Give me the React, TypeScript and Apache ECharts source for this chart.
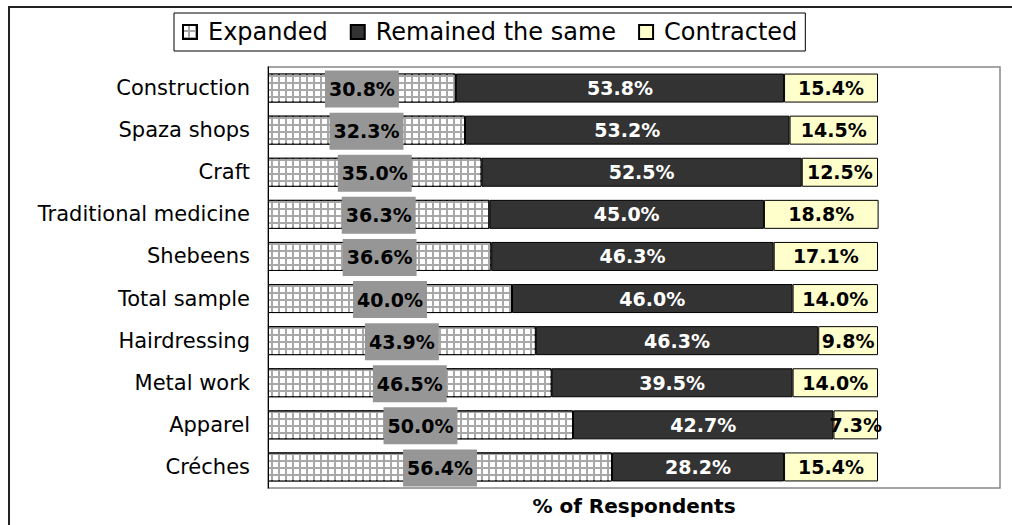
import React, { useEffect, useRef } from "react";
import * as echarts from "echarts";

const categories = [
  "Construction",
  "Spaza shops",
  "Craft",
  "Traditional medicine",
  "Shebeens",
  "Total sample",
  "Hairdressing",
  "Metal work",
  "Apparel",
  "Créches",
];
const expanded = [30.8, 32.3, 35.0, 36.3, 36.6, 40.0, 43.9, 46.5, 50.0, 56.4];
const remained = [53.8, 53.2, 52.5, 45.0, 46.3, 46.0, 46.3, 39.5, 42.7, 28.2];
const contracted = [15.4, 14.5, 12.5, 18.8, 17.1, 14.0, 9.8, 14.0, 7.3, 15.4];
const seriesNames = ["Expanded", "Remained the same", "Contracted"];
const axisTitle = "% of Respondents";

const FONT = "DejaVu Sans";
const fmt = (p: any) => Number(p.value).toFixed(1) + "%";

export default function App() {
  const ref = useRef<HTMLDivElement>(null);
  useEffect(() => {
    if (!ref.current) return;
    const chart = echarts.init(ref.current, null, { renderer: "svg" });
    const labelBase = {
      show: true,
      position: "inside",
      formatter: fmt,
      fontFamily: FONT,
      fontSize: 19,
      fontWeight: "bold",
    };
    const option: any = {
      animation: false,
      backgroundColor: "#ffffff",
      textStyle: { fontFamily: FONT },
      graphic: [
        {
          type: "rect",
          silent: true,
          z: -10,
          shape: { x: 9, y: 7, width: 1010, height: 530 },
          style: { fill: "none", stroke: "#222", lineWidth: 2 },
        },
      ],
      legend: {
        left: 174,
        top: 13,
        padding: [7, 8],
        borderColor: "#000",
        borderWidth: 1,
        icon: "rect",
        itemWidth: 14,
        itemHeight: 14,
        itemGap: 22,
        data: seriesNames,
        textStyle: {
          fontFamily: FONT,
          fontSize: 24,
          color: "#000",
          padding: [0, 0, 0, 6],
        },
      },
      grid: {
        left: 268,
        top: 67,
        right: 12,
        bottom: 37,
        show: true,
        borderColor: "#888",
        borderWidth: 1.5,
        backgroundColor: "transparent",
      },
      xAxis: {
        type: "value",
        min: 0,
        max: 120,
        axisLabel: { show: false },
        axisTick: { show: false },
        axisLine: { show: false },
        splitLine: { show: false },
        name: axisTitle,
        nameLocation: "middle",
        nameGap: 8,
        nameTextStyle: {
          fontFamily: FONT,
          fontSize: 20,
          fontWeight: "bold",
          color: "#000",
          verticalAlign: "top",
        },
      },
      yAxis: {
        type: "category",
        inverse: true,
        data: categories,
        axisLine: { lineStyle: { color: "#000", width: 1 } },
        axisTick: { length: 6, lineStyle: { color: "#000" } },
        axisLabel: { fontFamily: FONT, fontSize: 21, color: "#000", margin: 18 },
      },
      series: [
        {
          name: seriesNames[0],
          type: "bar",
          stack: "total",
          barWidth: 29,
          data: expanded,
          itemStyle: {
            color: "#a8a8a8",
            borderColor: "#000",
            borderWidth: 1,
            decal: {
              symbol: "rect",
              symbolSize: 1,
              color: "#ffffff",
              dashArrayX: [[5, 2]],
              dashArrayY: [5, 2],
              rotation: 0,
            },
          },
          label: {
            ...labelBase,
            color: "#000",
            backgroundColor: "#969696",
            padding: [9, 4],
            offset: [0, 1],
          },
        },
        {
          name: seriesNames[1],
          type: "bar",
          stack: "total",
          barWidth: 29,
          data: remained,
          itemStyle: { color: "#333333", borderColor: "#000", borderWidth: 1 },
          label: { ...labelBase, color: "#fff" },
        },
        {
          name: seriesNames[2],
          type: "bar",
          stack: "total",
          barWidth: 29,
          data: contracted,
          itemStyle: { color: "#ffffcc", borderColor: "#000", borderWidth: 1 },
          label: { ...labelBase, color: "#000" },
        },
      ],
    };
    chart.setOption(option);
    return () => chart.dispose();
  }, []);
  return (
    <div
      ref={ref}
      style={{ position: "fixed", left: 0, top: 0, width: 1012, height: 525 }}
    />
  );
}
